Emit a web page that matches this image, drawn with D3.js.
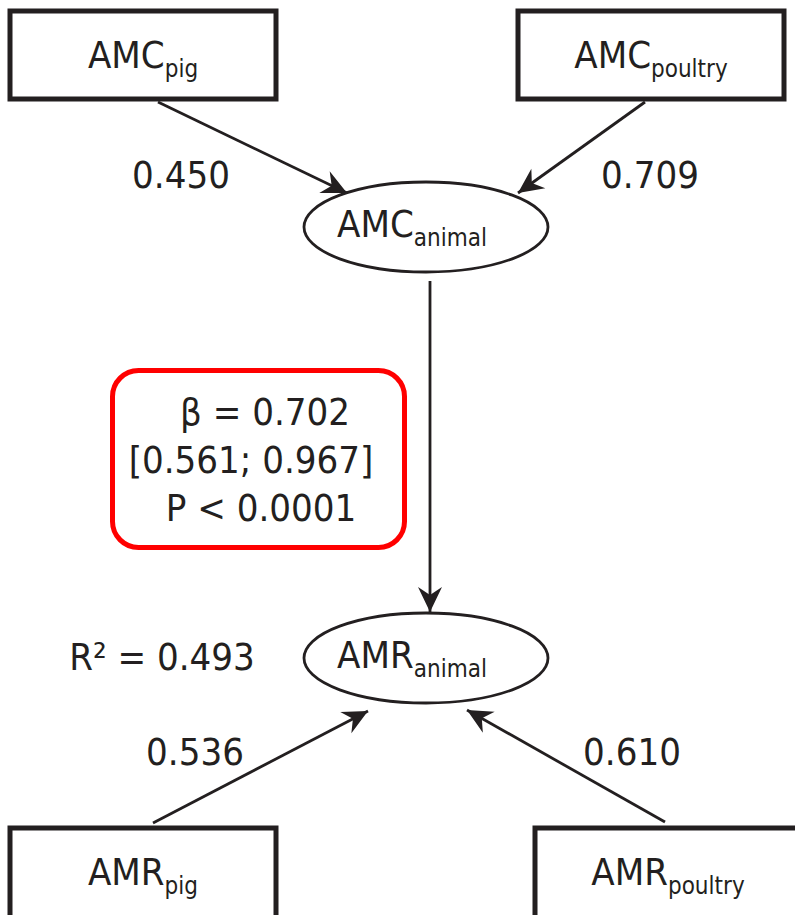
<!DOCTYPE html>
<html>
<head>
  <meta charset="utf-8">
  <title></title>
  <style>
    body { margin: 0; background: #fff; }
    svg text { font-family: "DejaVu Sans Condensed", "DejaVu Sans", sans-serif; font-stretch: condensed; fill: #231f20; }
  </style>
</head>
<body>
  <script src="https://cdn.jsdelivr.net/npm/d3@7"></script>
  <script>
    // observed variables (boxes) and latent variables (ellipses)
    var boxNames = ["AMC", "AMC", "AMR", "AMR"];
    var boxSubs = ["pig", "poultry", "pig", "poultry"];
    var latentNames = ["AMC", "AMR"];
    var latentSubs = ["animal", "animal"];
    // loadings of each box on its latent variable
    var loadings = [0.450, 0.709, 0.536, 0.610];
    // structural path AMC_animal -> AMR_animal
    var beta = 0.702;
    var betaCI = [0.561, 0.967];
    var pText = "P < 0.0001";
    var r2 = 0.493;

    var width = 795, height = 915;
    var fmt = d3.format(".3f");

    // layout helpers
    var colX = d3.scaleOrdinal().domain(["left", "mid", "rightTop", "rightBottom"]).range([143, 426, 651, 668]);
    var rowY = d3.scaleOrdinal().domain(["top", "upper", "lower", "bottom"]).range([55, 227, 658, 872]);
    var boxPos = [["left", "top"], ["rightTop", "top"], ["left", "bottom"], ["rightBottom", "bottom"]];
    var latentRow = ["upper", "lower"];
    var boxW = 266, boxH = 88, rx = 122, ry = 45;
    var ink = "#231f20";

    var svg = d3.select("body").append("svg")
      .attr("width", width).attr("height", height);

    svg.append("defs").append("marker")
      .attr("id", "head")
      .attr("viewBox", "-26 -13 28 26")
      .attr("refX", 0).attr("refY", 0)
      .attr("markerWidth", 28).attr("markerHeight", 26)
      .attr("markerUnits", "userSpaceOnUse")
      .attr("orient", "auto")
      .append("path")
      .attr("d", "M0,0 L-25,-12 L-17,0 L-25,12 Z")
      .attr("fill", ink);

    var boxes = boxNames.map(function(n, i) {
      return { name: n, sub: boxSubs[i], x: colX(boxPos[i][0]), y: rowY(boxPos[i][1]), coef: loadings[i] };
    });
    var latents = latentNames.map(function(n, i) {
      return { name: n, sub: latentSubs[i], x: colX("mid"), y: rowY(latentRow[i]) };
    });

    // arrows from boxes to latent variables
    var arrowStarts = [[158, 102], [645, 102], [153, 823], [665, 822]];
    var arrowEnds = [[347, 193], [518, 193], [368, 711], [467, 710]];
    boxes.forEach(function(b, i) {
      svg.append("line")
        .attr("x1", arrowStarts[i][0]).attr("y1", arrowStarts[i][1])
        .attr("x2", arrowEnds[i][0]).attr("y2", arrowEnds[i][1])
        .attr("stroke", ink).attr("stroke-width", 2.8)
        .attr("marker-end", "url(#head)");
    });

    // structural path
    svg.append("line")
      .attr("x1", 430).attr("y1", 281)
      .attr("x2", 430).attr("y2", 612)
      .attr("stroke", ink).attr("stroke-width", 2.8)
      .attr("marker-end", "url(#head)");

    // boxes
    var bg = svg.selectAll("g.box").data(boxes).enter().append("g").attr("class", "box");
    bg.append("rect")
      .attr("x", function(d) { return d.x - boxW / 2; })
      .attr("y", function(d) { return d.y - boxH / 2; })
      .attr("width", boxW).attr("height", function(d, i) { return i < 2 ? boxH : 120; })
      .attr("fill", "#fff").attr("stroke", ink).attr("stroke-width", 5);
    var bt = bg.append("text")
      .attr("x", function(d) { return d.x; })
      .attr("y", function(d) { return d.y + 13; })
      .attr("text-anchor", "middle")
      .style("font-size", "38px");
    bt.append("tspan").text(function(d) { return d.name; });
    bt.append("tspan").attr("dy", 9).style("font-size", "24px").text(function(d) { return d.sub; });

    // latent ellipses
    var lg = svg.selectAll("g.latent").data(latents).enter().append("g").attr("class", "latent");
    lg.append("ellipse")
      .attr("cx", function(d) { return d.x; })
      .attr("cy", function(d) { return d.y; })
      .attr("rx", rx).attr("ry", ry)
      .attr("fill", "#fff").attr("stroke", ink).attr("stroke-width", 2.8);
    var lt = lg.append("text")
      .attr("x", function(d) { return d.x - 14; })
      .attr("y", function(d) { return d.y + 10; })
      .attr("text-anchor", "middle")
      .style("font-size", "38px");
    lt.append("tspan").text(function(d) { return d.name; });
    lt.append("tspan").attr("dy", 9).style("font-size", "24px").text(function(d) { return d.sub; });

    // loading labels
    var labelPos = [[181, 188], [650, 188], [195, 765], [632, 765]];
    svg.selectAll("text.coef").data(loadings).enter().append("text")
      .attr("class", "coef")
      .attr("x", function(d, i) { return labelPos[i][0]; })
      .attr("y", function(d, i) { return labelPos[i][1]; })
      .attr("text-anchor", "middle")
      .style("font-size", "38px")
      .text(function(d) { return fmt(d); });

    // R squared
    svg.append("text")
      .attr("x", 162).attr("y", 670)
      .attr("text-anchor", "middle")
      .style("font-size", "38px")
      .text("R\u00b2 = " + fmt(r2));

    // beta box
    svg.append("rect")
      .attr("x", 112.5).attr("y", 370.5)
      .attr("width", 292).attr("height", 177)
      .attr("rx", 26).attr("ry", 26)
      .attr("fill", "#fff").attr("stroke", "#ff0000").attr("stroke-width", 5);
    var betaLines = ["\u03b2 = " + fmt(beta), "[" + fmt(betaCI[0]) + "; " + fmt(betaCI[1]) + "]", pText];
    var betaX = [265, 251, 261];
    svg.selectAll("text.beta").data(betaLines).enter().append("text")
      .attr("class", "beta")
      .attr("x", function(d, i) { return betaX[i]; })
      .attr("y", function(d, i) { return 425 + i * 48; })
      .attr("text-anchor", "middle")
      .style("font-size", "38px")
      .text(function(d) { return d; });
  </script>
</body>
</html>
